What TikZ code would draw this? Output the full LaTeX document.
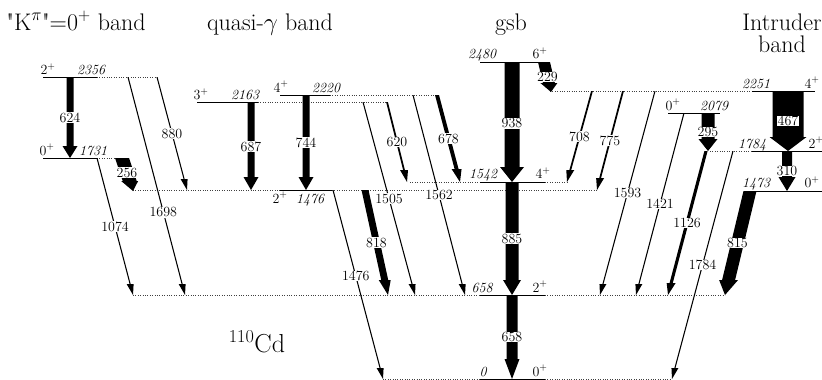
\documentclass[tikz,border=0pt]{standalone}
\usetikzlibrary{calc}
% #1 label-node name, #2 start, #3 end, #4 half shaft width, #5 half head width, #6 head length, #7 text, #8 label pos
\newcommand\gtrans[8]{%
  \fill let \p1=(#2), \p2=(#3), \n1={(\x2-\x1)/(\y2-\y1)} in
    (\x1-#4pt,\y1) -- (\x1+#4pt,\y1)
    -- ({\x2+(\n1)*#6pt+#4pt},{\y2+#6pt})
    -- ({\x2+(\n1)*#6pt+#5pt},{\y2+#6pt})
    -- (\x2,\y2)
    -- ({\x2+(\n1)*#6pt-#5pt},{\y2+#6pt})
    -- ({\x2+(\n1)*#6pt-#4pt},{\y2+#6pt}) -- cycle;
  \node[lab] (#1) at ($(#2)!#8!(#3)$) {#7};}
\newcommand\thin[5]{\gtrans{#1}{#2}{#3}{0.55}{3.5}{11}{#4}{#5}}
\begin{document}
\begin{tikzpicture}[x=1pt,y=-1pt,
  lvl/.style={line width=0.9pt},
  dot/.style={line width=0.8pt, dash pattern=on 0.8pt off 1.6pt, black!75},
  lab/.style={font=\fontsize{14}{14}\selectfont, fill=white, inner sep=0.6pt},
  elab/.style={font=\fontsize{14}{14}\selectfont\itshape, inner sep=0pt, anchor=base},
  slab/.style={font=\fontsize{14}{14}\selectfont, inner sep=0pt, anchor=base},
  ttl/.style={font=\fontsize{24}{24}\selectfont, inner sep=0pt, anchor=base}]
\useasboundingbox (0,0) rectangle (822,380);

% ---------- titles
\node[ttl] (tK) at (76,30) {\textquotedbl K$^{\pi}$\textquotedbl=0\textsuperscript{+} band};
\node[ttl] (tQ) at (270,30) {quasi-$\gamma$ band};
\node[ttl] (tG) at (511,30) {gsb};
\node[ttl] (tI1) at (782,30) {Intruder};
\node[ttl] (tI2) at (782,52) {band};
\node[ttl, font=\fontsize{26}{26}\selectfont] (tCd) at (257,352) {\textsuperscript{110}Cd};

% ---------- levels
% 2356
\draw[lvl] (43,77) -- (97,77); \draw[dot] (97,77) -- (157,77);
% 1731
\draw[lvl] (43,158) -- (97,158); \draw[dot] (97,158) -- (115,158);
% 2163
\draw[lvl] (197,102) -- (258,102); \draw[dot] (258,102) -- (387,102);
% 2220
\draw[lvl] (280,95) -- (330,95); \draw[dot] (330,95) -- (437,95);
% 1476
\draw[dot] (133,190) -- (280,190); \draw[lvl] (280,190) -- (332,190); \draw[dot] (332,190) -- (597,190);
% 2480
\draw[lvl] (480,62) -- (540,62);
% 1542
\draw[dot] (410,182) -- (480,182); \draw[lvl] (480,182) -- (545,182); \draw[dot] (545,182) -- (567,182);
% 2251
\draw[dot] (550,91) -- (752,91); \draw[lvl] (752,91) -- (815,91);
% 2079
\draw[lvl] (668,113) -- (720,113);
% 1784
\draw[dot] (710,151) -- (752,151); \draw[lvl] (752,151) -- (822,151);
% 1473
\draw[lvl] (750,191) -- (822,191);
% 658
\draw[dot] (133,295) -- (480,295); \draw[lvl] (480,295) -- (545,295); \draw[dot] (545,295) -- (725,295);
% 0
\draw[dot] (383,379) -- (480,379); \draw[lvl] (480,379) -- (545,379); \draw[dot] (545,379) -- (672,379);

% ---------- level labels
\node[slab] (j2356) at (48,74.5) {2\textsuperscript{+}};  \node[elab] (e2356) at (91,74.5) {2356};
\node[slab] (j1731) at (47,155) {0\textsuperscript{+}};   \node[elab] (e1731) at (93,155) {1731};
\node[slab] (j2163) at (201,99.5) {3\textsuperscript{+}}; \node[elab] (e2163) at (245,99.5) {2163};
\node[slab] (j2220) at (281,92) {4\textsuperscript{+}};   \node[elab] (e2220) at (326,92) {2220};
\node[slab] (j1476) at (280,203) {2\textsuperscript{+}};  \node[elab] (e1476) at (310,203) {1476};
\node[elab] (e2480) at (482,58.5) {2480};  \node[slab] (j2480) at (540,58.5) {6\textsuperscript{+}};
\node[elab] (e1542) at (483,178.5) {1542}; \node[slab] (j1542) at (543,178.5) {4\textsuperscript{+}};
\node[elab] (e2251) at (756,88) {2251};    \node[slab] (j2251) at (812,88) {4\textsuperscript{+}};
\node[slab] (j2079) at (673,110) {0\textsuperscript{+}};  \node[elab] (e2079) at (714,110) {2079};
\node[elab] (e1784) at (752,148) {1784};   \node[slab] (j1784) at (816,148) {2\textsuperscript{+}};
\node[elab] (e1473) at (756,187.5) {1473}; \node[slab] (j1473) at (812,187.5) {0\textsuperscript{+}};
\node[elab] (e658) at (482,292) {658};     \node[slab] (j658) at (540,292) {2\textsuperscript{+}};
\node[elab] (e0) at (483,376) {0};         \node[slab] (j0) at (540,376) {0\textsuperscript{+}};

% ---------- transition end points
\coordinate (s624) at (70,77);    \coordinate (f624) at (70,158);
\coordinate (s256) at (122,158);  \coordinate (f256) at (133,191);
\coordinate (s880) at (157,77);   \coordinate (f880) at (187,190);
\coordinate (s1698) at (128,77);  \coordinate (f1698) at (185,295);
\coordinate (s1074) at (97,158);  \coordinate (f1074) at (133,295);
\coordinate (s687) at (251,102);  \coordinate (f687) at (251,190);
\coordinate (s744) at (306,95);   \coordinate (f744) at (306,190);
\coordinate (s620) at (387,102);  \coordinate (f620) at (407,182);
\coordinate (s678) at (437,95);   \coordinate (f678) at (460,182);
\coordinate (s1505) at (363,102); \coordinate (f1505) at (415,295);
\coordinate (s1562) at (413,95);  \coordinate (f1562) at (465,295);
\coordinate (s818) at (365,190);  \coordinate (f818) at (388,295);
\coordinate (s1476) at (333,190); \coordinate (f1476) at (383,379);
\coordinate (s938) at (512,62);   \coordinate (f938) at (512,182);
\coordinate (s885) at (512,182);  \coordinate (f885) at (512,295);
\coordinate (s658) at (512,295);  \coordinate (f658) at (512,379);
\coordinate (s229) at (544,62);   \coordinate (f229) at (551,92);
\coordinate (s708) at (592,91);   \coordinate (f708) at (567,182);
\coordinate (s775) at (623,91);   \coordinate (f775) at (597,190);
\coordinate (s1593) at (655,91);  \coordinate (f1593) at (600,295);
\coordinate (s1421) at (684,113); \coordinate (f1421) at (636,295);
\coordinate (s1126) at (706,151); \coordinate (f1126) at (668,295);
\coordinate (s1784) at (733,151); \coordinate (f1784) at (672,379);
\coordinate (s295) at (708,113);  \coordinate (f295) at (708,151);
\coordinate (s467) at (788,91);   \coordinate (f467) at (788,151);
\coordinate (s310) at (787,151);  \coordinate (f310) at (787,191);
\coordinate (s815) at (750,191);  \coordinate (f815) at (725,295);

% ---------- transitions
\gtrans{t624}{s624}{f624}{3.5}{7.5}{12}{624}{0.5}
\gtrans{t256}{s256}{f256}{7}{8.5}{10}{256}{0.45}
\thin{t880}{s880}{f880}{880}{0.5}
\thin{t1698}{s1698}{f1698}{1698}{0.62}
\thin{t1074}{s1074}{f1074}{1074}{0.5}
\gtrans{t687}{s687}{f687}{3.5}{7.5}{13}{687}{0.51}
\gtrans{t744}{s744}{f744}{3.5}{7.5}{13}{744}{0.5}
\gtrans{t620}{s620}{f620}{0.9}{4}{12}{620}{0.5}
\gtrans{t678}{s678}{f678}{2}{5}{13}{678}{0.5}
\thin{t1505}{s1505}{f1505}{1505}{0.5}
\thin{t1562}{s1562}{f1562}{1562}{0.5}
\gtrans{t818}{s818}{f818}{3.5}{6}{15}{818}{0.5}
\thin{t1476}{s1476}{f1476}{1476}{0.455}
\gtrans{t938}{s938}{f938}{7.5}{12}{15}{938}{0.51}
\gtrans{t885}{s885}{f885}{6.5}{9}{15}{885}{0.5}
\gtrans{t658}{s658}{f658}{5.5}{7.5}{20}{658}{0.5}
\gtrans{t229}{s229}{f229}{6}{8.5}{9}{229}{0.5}
\gtrans{t708}{s708}{f708}{0.9}{4}{12}{708}{0.5}
\gtrans{t775}{s775}{f775}{0.9}{4}{12}{775}{0.5}
\thin{t1593}{s1593}{f1593}{1593}{0.5}
\thin{t1421}{s1421}{f1421}{1421}{0.5}
\gtrans{t1126}{s1126}{f1126}{1.6}{4.5}{12}{1126}{0.5}
\thin{t1784}{s1784}{f1784}{1784}{0.5}
\gtrans{t295}{s295}{f295}{6.5}{9.5}{12}{295}{0.5}
\gtrans{t467}{s467}{f467}{15.5}{18.5}{14}{467}{0.5}
\gtrans{t310}{s310}{f310}{5}{8.5}{14}{310}{0.5}
\gtrans{t815}{s815}{f815}{6.5}{9.5}{15}{815}{0.5}
\end{tikzpicture}
\end{document}
